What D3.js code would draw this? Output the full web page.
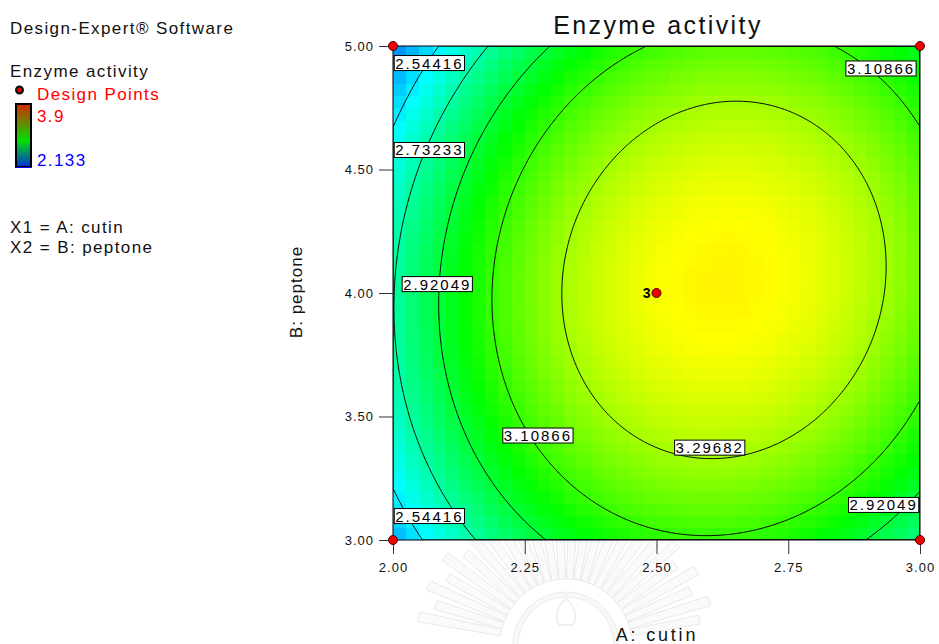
<!DOCTYPE html>
<html>
<head>
<meta charset="utf-8">
<script src="https://cdn.jsdelivr.net/npm/d3@7"></script>
<style>
  body { margin: 0; background: #fff; }
  text { font-family: "Liberation Sans", Arial, Helvetica, sans-serif; }
</style>
</head>
<body>
<svg id="chart" width="939" height="644"></svg>
<script>
// ---- factor ranges and axis ticks (actual units) ----
const cutinRange = [2.00, 3.00];
const peptoneRange = [3.00, 5.00];
const cutinTicks = [2.00, 2.25, 2.50, 2.75, 3.00];
const peptoneTicks = [3.00, 3.50, 4.00, 4.50, 5.00];

// ---- fitted quadratic model, coded factors: b0, A, B, AB, A^2, B^2 ----
const modelCoef = [3.445, 0.241, 0.0207, 0.0621, -0.477, -0.345];

// ---- response range shown in the legend and used for the colour ramp ----
const responseRange = [2.133, 3.9];

// ---- contour levels ----
const contourLevels = [2.54416, 2.73233, 2.92049, 3.10866, 3.29682];

// ---- design points ----
const designCutin = [2.00, 2.00, 3.00, 3.00, 2.50];
const designPeptone = [3.00, 5.00, 3.00, 5.00, 4.00];
const designReps = [1, 1, 1, 1, 3];

// ---- where each contour value is written (level index, cutin, peptone) ----
const labelSpots = [
  [0, 2.069, 4.931], [1, 2.069, 4.579], [2, 2.084, 4.036],
  [3, 2.926, 4.909], [3, 2.275, 3.423], [4, 2.601, 3.374],
  [2, 2.931, 3.142], [0, 2.069, 3.097]
];

// predicted response at actual factor settings
function predict(a, b) {
  const xa = (a - 2.5) / 0.5, xb = (b - 4.0) / 1.0;
  const c = modelCoef;
  return c[0] + c[1] * xa + c[2] * xb + c[3] * xa * xb + c[4] * xa * xa + c[5] * xb * xb;
}

const svg = d3.select("#chart");
const defs = svg.append("defs");
const plot = { left: 393, right: 920, top: 46, bottom: 540 };

const x = d3.scaleLinear().domain(cutinRange).range([plot.left, plot.right]);
const y = d3.scaleLinear().domain(peptoneRange).range([plot.bottom, plot.top]);

// ---- faint seal printed on the page, behind the chart ----
const seal = svg.append("g").attr("transform", "translate(566,645)").attr("opacity", 0.55);
const rayCount = 26;
for (let k = 0; k < rayCount; k++) {
  const ang = Math.PI * (1.06 + 0.88 * k / (rayCount - 1));
  const r0 = 66, r1 = (k % 2 === 0) ? 150 : 136, half = 0.033;
  const p = [
    [r0 * Math.cos(ang - half * 1.5), r0 * Math.sin(ang - half * 1.5)],
    [r1 * Math.cos(ang - half), r1 * Math.sin(ang - half)],
    [r1 * Math.cos(ang + half), r1 * Math.sin(ang + half)],
    [r0 * Math.cos(ang + half * 1.5), r0 * Math.sin(ang + half * 1.5)]
  ];
  seal.append("path").attr("d", d3.line()(p) + "Z")
    .attr("fill", "#f6f6f6").attr("stroke", "#d8d8d8").attr("stroke-width", 1);
}
seal.append("path")
  .attr("d", d3.arc()({ innerRadius: 48, outerRadius: 53, startAngle: -Math.PI / 2, endAngle: Math.PI / 2 }))
  .attr("fill", "#f4f4f4").attr("stroke", "#dcdcdc");
seal.append("path")
  .attr("d", "M-7,-20 C-12,-30 -8,-40 0,-46 C8,-40 12,-30 7,-20 Z")
  .attr("fill", "none").attr("stroke", "#dcdcdc").attr("stroke-width", 1.5);

// blue -> cyan -> green -> yellow -> red ramp across the response range
const lo = responseRange[0], hi = responseRange[1], span = hi - lo;
const colour = d3.scaleLinear()
  .domain([lo, lo + span * 0.25, lo + span * 0.5, lo + span * 0.75, hi])
  .range(["#0000ff", "#00ffff", "#00ff00", "#ffff00", "#ff0000"])
  .clamp(true);

// ---- filled surface: coarse blocks ----
const cells = 40;
const cellData = [];
for (let j = 0; j < cells; j++) {
  for (let i = 0; i < cells; i++) {
    const a0 = cutinRange[0] + (cutinRange[1] - cutinRange[0]) * i / cells;
    const a1 = cutinRange[0] + (cutinRange[1] - cutinRange[0]) * (i + 1) / cells;
    const b0 = peptoneRange[0] + (peptoneRange[1] - peptoneRange[0]) * j / cells;
    const b1 = peptoneRange[0] + (peptoneRange[1] - peptoneRange[0]) * (j + 1) / cells;
    cellData.push({ a0, a1, b0, b1, v: predict((a0 + a1) / 2, (b0 + b1) / 2) });
  }
}

defs.append("clipPath").attr("id", "plotClip")
  .append("rect")
  .attr("x", x(cutinRange[0])).attr("y", y(peptoneRange[1]))
  .attr("width", x(cutinRange[1]) - x(cutinRange[0]))
  .attr("height", y(peptoneRange[0]) - y(peptoneRange[1]));

const surface = svg.append("g").attr("clip-path", "url(#plotClip)");
surface.selectAll("rect.cell").data(cellData).join("rect")
  .attr("class", "cell")
  .attr("x", d => x(d.a0))
  .attr("y", d => y(d.b1))
  .attr("width", d => x(d.a1) - x(d.a0) + 0.6)
  .attr("height", d => y(d.b0) - y(d.b1) + 0.6)
  .attr("fill", d => colour(d.v))
  .attr("shape-rendering", "crispEdges");

// ---- contour lines from a fine grid ----
const n = 300;
const grid = new Array(n * n);
for (let r = 0; r < n; r++) {
  const b = peptoneRange[1] - (peptoneRange[1] - peptoneRange[0]) * (r + 0.5) / n;
  for (let c = 0; c < n; c++) {
    const a = cutinRange[0] + (cutinRange[1] - cutinRange[0]) * (c + 0.5) / n;
    grid[r * n + c] = predict(a, b);
  }
}
const gx = d3.scaleLinear().domain([0, n]).range([x(cutinRange[0]), x(cutinRange[1])]);
const gy = d3.scaleLinear().domain([0, n]).range([y(peptoneRange[1]), y(peptoneRange[0])]);
const projection = d3.geoTransform({
  point(px, py) { this.stream.point(gx(px), gy(py)); }
});
const contourPath = d3.geoPath(projection);
const contours = d3.contours().size([n, n]).thresholds(contourLevels)(grid);
surface.selectAll("path.contour").data(contours).join("path")
  .attr("class", "contour")
  .attr("d", contourPath)
  .attr("fill", "none")
  .attr("stroke", "#000")
  .attr("stroke-width", 1);

// ---- contour value boxes ----
const labelG = svg.append("g").attr("clip-path", "url(#plotClip)");
labelSpots.forEach(([li, a, b]) => {
  const g = labelG.append("g").attr("transform", `translate(${x(a)},${y(b)})`);
  const rect = g.append("rect");
  const t = g.append("text")
    .attr("text-anchor", "middle")
    .attr("y", 5.5)
    .attr("font-size", 15)
    .style("letter-spacing", "2px")
    .attr("fill", "#000")
    .text(contourLevels[li]);
  const bb = t.node().getBBox();
  rect.attr("x", bb.x - 1).attr("y", -7.5)
    .attr("width", bb.width + 2).attr("height", 15)
    .attr("fill", "#fff").attr("stroke", "#000").attr("stroke-width", 1);
});

// ---- plot border ----
svg.append("rect")
  .attr("x", x(cutinRange[0])).attr("y", y(peptoneRange[1]))
  .attr("width", x(cutinRange[1]) - x(cutinRange[0]))
  .attr("height", y(peptoneRange[0]) - y(peptoneRange[1]))
  .attr("fill", "none").attr("stroke", "#000").attr("stroke-width", 1);

// ---- axes ----
const xAxis = svg.append("g")
  .attr("transform", `translate(0,${plot.bottom})`)
  .call(d3.axisBottom(x).tickValues(cutinTicks).tickFormat(d3.format(".2f"))
    .tickSize(14).tickSizeOuter(0).tickPadding(9));
const yAxis = svg.append("g")
  .attr("transform", `translate(${plot.left},0)`)
  .call(d3.axisLeft(y).tickValues(peptoneTicks).tickFormat(d3.format(".2f"))
    .tickSize(14).tickSizeOuter(0).tickPadding(5));
[xAxis, yAxis].forEach(ax => {
  ax.select(".domain").remove();
  ax.selectAll(".tick line").attr("stroke", "#333");
  ax.selectAll(".tick text")
    .attr("font-family", "Liberation Sans, Arial, sans-serif")
    .attr("font-size", 13).attr("fill", "#111")
    .style("letter-spacing", "1px");
});

// ---- design points ----
const pts = designCutin.map((a, i) => ({ a, b: designPeptone[i], reps: designReps[i] }));
svg.selectAll("circle.design").data(pts).join("circle")
  .attr("class", "design")
  .attr("cx", d => x(d.a)).attr("cy", d => y(d.b)).attr("r", 4.5)
  .attr("fill", "#ee0000").attr("stroke", "#500").attr("stroke-width", 1);
svg.selectAll("text.reps").data(pts.filter(d => d.reps > 1)).join("text")
  .attr("class", "reps")
  .attr("x", d => x(d.a) - 6).attr("y", d => y(d.b) + 5)
  .attr("text-anchor", "end")
  .attr("font-size", 14).attr("font-weight", "bold")
  .text(d => d.reps);

// ---- titles ----
svg.append("text")
  .attr("x", 658).attr("y", 34)
  .attr("text-anchor", "middle")
  .attr("font-size", 25)
  .style("letter-spacing", "2.4px")
  .attr("fill", "#111")
  .text("Enzyme activity");
svg.append("text")
  .attr("x", 657).attr("y", 641)
  .attr("text-anchor", "middle")
  .attr("font-size", 18)
  .style("letter-spacing", "2.8px")
  .attr("fill", "#111")
  .text("A: cutin");
svg.append("text")
  .attr("transform", "translate(302,292) rotate(-90)")
  .attr("text-anchor", "middle")
  .attr("font-size", 17)
  .style("letter-spacing", "1px")
  .attr("fill", "#111")
  .text("B: peptone");

// ---- legend ----
const legend = svg.append("g");
const legendText = (tx, ty, s, fill) => legend.append("text")
  .attr("x", tx).attr("y", ty).attr("font-size", 17)
  .style("letter-spacing", "1.4px")
  .attr("fill", fill).text(s);
legendText(10, 34, "Design-Expert® Software", "#111");
legendText(10, 77, "Enzyme activity", "#111");
legend.append("circle").attr("cx", 19.5).attr("cy", 90).attr("r", 3.4)
  .attr("fill", "#ee0000").attr("stroke", "#111").attr("stroke-width", 2.2);
legendText(37, 100, "Design Points", "#ff0000");

const grad = defs.append("linearGradient")
  .attr("id", "legendRamp").attr("x1", 0).attr("y1", 0).attr("x2", 0).attr("y2", 1);
grad.append("stop").attr("offset", "0%").attr("stop-color", "#d82800");
grad.append("stop").attr("offset", "58%").attr("stop-color", "#00e000");
grad.append("stop").attr("offset", "100%").attr("stop-color", "#0030e0");
legend.append("rect").attr("x", 16).attr("y", 104).attr("width", 15).attr("height", 63)
  .attr("fill", "url(#legendRamp)").attr("stroke", "#000").attr("stroke-width", 2);
legend.append("line").attr("x1", 15).attr("x2", 32).attr("y1", 167.5).attr("y2", 167.5)
  .attr("stroke", "#0000ff").attr("stroke-width", 1);
legendText(37, 122, String(responseRange[1]), "#ff0000");
legendText(37, 166, String(responseRange[0]), "#0000ff");
legendText(10, 233, "X1 = A: cutin", "#111");
legendText(10, 253, "X2 = B: peptone", "#111");
</script>
</body>
</html>
